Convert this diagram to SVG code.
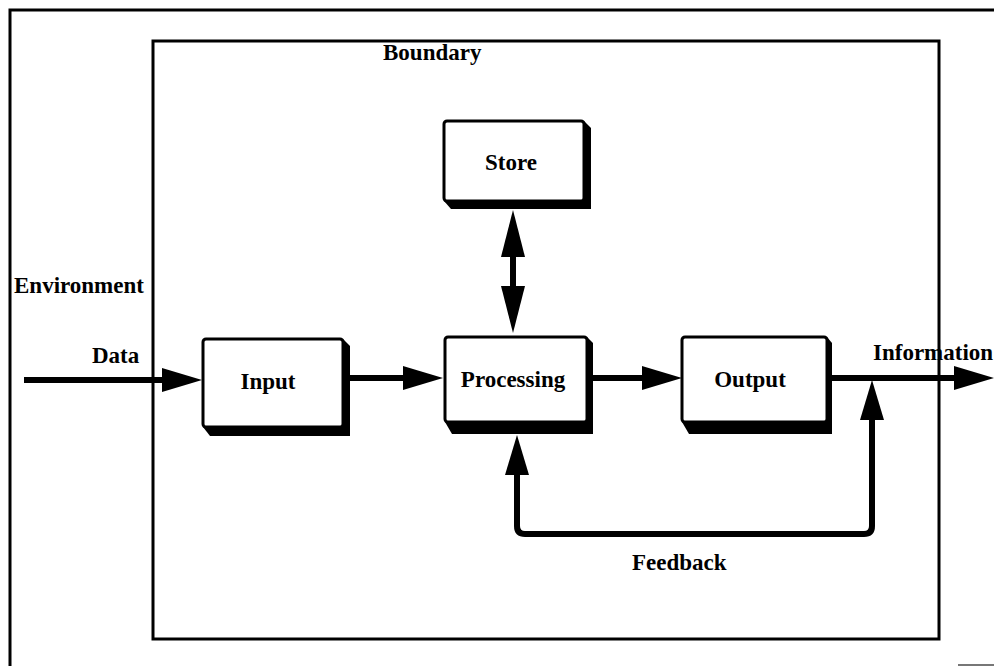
<svg xmlns="http://www.w3.org/2000/svg" width="994" height="666" viewBox="0 0 994 666">
  <style>
    .frame { fill: none; stroke: #000; stroke-width: 3; }
    .label { font-family: "Liberation Serif", "Times New Roman", serif; font-size: 23px; font-weight: bold; fill: #000; }
    .mid { text-anchor: middle; }
    .face { fill: #fff; stroke: #000; stroke-width: 3; }
    .extrude { fill: #000; }
    .flow { fill: none; stroke: #000; stroke-width: 6; }
  </style>
  <defs>
    <marker id="head" viewBox="0 0 40 24" refX="0" refY="12" markerWidth="40" markerHeight="24" markerUnits="userSpaceOnUse" orient="auto-start-reverse">
      <path d="M0,0 L40,12 L0,24 Z" fill="#000"/>
    </marker>
    <marker id="headLong" viewBox="0 0 47 24" refX="0" refY="12" markerWidth="47" markerHeight="24" markerUnits="userSpaceOnUse" orient="auto-start-reverse">
      <path d="M0,0 L47,12 L0,24 Z" fill="#000"/>
    </marker>
  </defs>

  <rect width="994" height="666" fill="#fff"/>

  <!-- environment frame -->
  <g id="environment">
    <path class="frame" d="M10,666 V10 H994"/>
    <path d="M958,665 H994" stroke="#777" stroke-width="2"/>
    <text class="label" x="14" y="293">Environment</text>
  </g>

  <!-- system boundary -->
  <g id="boundary">
    <rect class="frame" x="153" y="41" width="786" height="598"/>
    <text class="label" x="383" y="60">Boundary</text>
  </g>

  <!-- connectors -->
  <g id="connectors">
    <path class="flow" d="M24,380 H162" marker-end="url(#head)"/>
    <path class="flow" d="M343,378 H403" marker-end="url(#head)"/>
    <path class="flow" d="M590,378 H642" marker-end="url(#head)"/>
    <path class="flow" d="M828,378 H954" marker-end="url(#head)"/>
    <path class="flow" d="M513,257 V286" marker-start="url(#headLong)" marker-end="url(#headLong)"/>
    <path class="flow" d="M872,420 V526 Q872,534 864,534 H525 Q517,534 517,526 V475" marker-start="url(#head)" marker-end="url(#head)"/>
  </g>

  <!-- edge labels -->
  <g id="edge-labels">
    <text class="label" x="92" y="363">Data</text>
    <text class="label" x="873" y="360">Information</text>
    <text class="label" x="632" y="570">Feedback</text>
  </g>

  <!-- store -->
  <g id="store">
    <polygon class="extrude" points="444,121 584,121 591,128 591,209 451,209 444,201"/>
    <rect class="face" x="444" y="121" width="140" height="80" rx="3"/>
    <text class="label mid" x="511" y="170">Store</text>
  </g>

  <!-- input -->
  <g id="input">
    <polygon class="extrude" points="203,339 343,339 350,346 350,436 210,436 203,427"/>
    <rect class="face" x="203" y="339" width="140" height="88" rx="3"/>
    <text class="label mid" x="268" y="389">Input</text>
  </g>

  <!-- processing -->
  <g id="processing">
    <polygon class="extrude" points="445,337 587,337 593,343 593,434 452,434 445,422"/>
    <rect class="face" x="445" y="337" width="142" height="85" rx="3"/>
    <text class="label mid" x="513" y="387">Processing</text>
  </g>

  <!-- output -->
  <g id="output">
    <polygon class="extrude" points="682,337 827,337 832,343 832,434 689,434 682,422"/>
    <rect class="face" x="682" y="337" width="145" height="85" rx="3"/>
    <text class="label mid" x="750" y="387">Output</text>
  </g>
</svg>
